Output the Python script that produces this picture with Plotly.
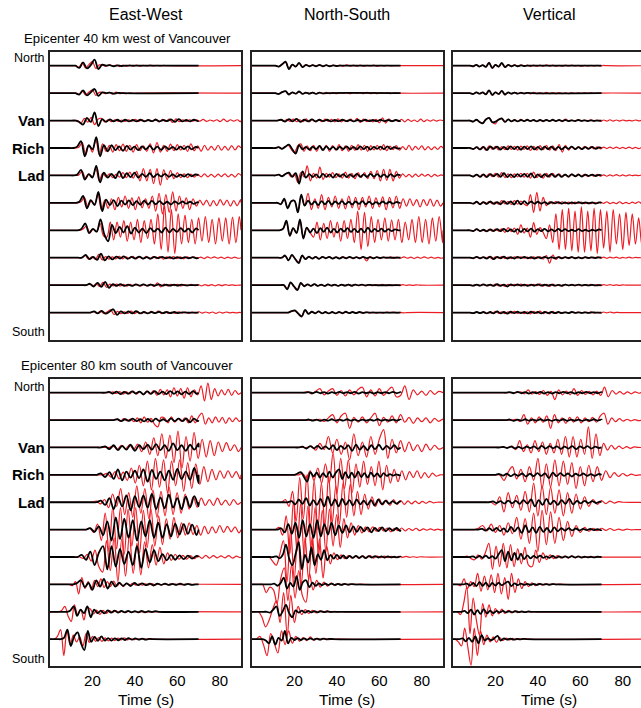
import plotly.graph_objects as go

# ---------------- data: (start time s, step s, amplitudes in 1/100 trace spacing) ----------------
# Top row: epicenter 40 km west of Vancouver
EW_TOP_BLACK = [
    (12, 1.8, [0,-8,12,-10,2,22,-12,4,0,2,-2,1,-1]),
    (12, 1.8, [0,-5,10,-8,3,15,-10,3,0,2,-2,1]),
    (12, 1.8, [0,-5,-15,10,-5,30,-20,5,-5,4,-3,3,-4,3,-3,2,-3,3,-3,2,-2,3,-3,2,-2,4,-5,5,-3,2,-3,3,-2,2,-2,2,-2,2,-2,2,0]),
    (11, 1.8, [0,5,25,-30,10,-5,40,-30,10,-12,10,-8,6,-10,8,-6,5,-8,6,-5,8,-6,5,-7,6,-5,4,-6,5,-4,6,-5,4,-5,4,-3,5,-4,3,-4,4,-3,2]),
    (11, 1.8, [0,3,20,-15,5,-8,35,-25,10,-8,6,-10,15,-10,8,-6,10,-8,6,-5,8,-6,5,-4,6,-5,4,-5,3,-4,5,-3,4,-3,3,-4,3,-2,3,-2,2]),
    (12, 1.8, [0,4,25,-20,10,-8,40,-30,12,-8,10,-12,8,-6,9,-8,6,-7,8,-6,7,-5,6,-5,4,-6,5,-4,5,-3,4,-4,3,-3,4,-2,3,-2]),
    (13, 1.8, [0,5,25,-10,5,-5,40,-15,-40,20,-10,12,-8,15,-12,10,-8,6,-10,8,-5,6,-8,10,-8,5,-6,8,-5,6,-8,7,-5,4,-6,5,-3,3]),
    (15, 1.8, [0,10,-5,3,-8,15,-10,5,-6,4,-3,5,-4,3,-3,4,-3,2,-3,3,-2,3,-2,2,-3,2,-2,2,-2,2,-2,2,-1]),
    (17, 1.8, [0,5,-5,8,-6,12,-10,4,-3,4,-3,2,-3,3,-2,3,-2,2,-2,3,-2,2,-2,2,-2,2,-1]),
    (19, 1.8, [0,4,-3,6,-4,3,12,-8,4,-3,4,-3,5,-3,2,-3,2,-2,3,-2,2,-2,2,-2,1]),
]
EW_TOP_RED = [
    (12, 1.6, [0,-5,10,-8,5,15,-10,3,2,-2,3,-2,2,-3,2,-2,2,-2,2,-2,1,-1,2,-1,1,-1,1]),
    (12, 1.6, [0,-4,8,-6,4,12,-8,3,2,-2,3,-3,4,-2,2,-2,1,-1]),
    (13, 1.6, [0,-10,8,-6,12,-15,5,8,-5,3,-4,3,-3,2,-3,3,-2,4,-3,3,-2,3,-4,5,-5,4,-3,5,-7,6,-4,3,-3,3,-2,3,-2,4,-3,2,-2,3,-4,5,-4,3,-2,3,-4,3,-3,2,-2]),
    (12, 1.6, [0,3,20,-25,10,-15,30,-25,15,-12,10,-15,12,-10,14,-12,10,-15,12,-10,8,-12,15,-18,20,-15,10,-12,14,-10,12,-8,10,-12,15,-10,8,-12,10,-8,6,-8,10,-8,6,-8,9,-7,8,-6,8,-9,7,-6]),
    (12, 1.6, [0,2,15,-12,5,-5,25,-20,8,-5,6,-8,5,-6,10,-8,12,-10,15,-20,25,-20,22,-30,25,-35,20,-15,18,-12,10,-8,6,-8,5,-6,4,-5,6,-5,4,-6,5,-4,6,-5,4,-6,7,-5,4,-6,5,-4]),
    (13, 1.6, [0,4,20,-15,8,-5,30,-25,10,-20,15,-25,20,-15,25,-20,18,-25,22,-18,15,-20,25,-30,35,-40,30,-35,40,-30,25,-20,18,-25,15,-12,10,-8,10,-12,8,-10,12,-8,10,-12,8,-10,12,-9,10,-8,9,-10]),
    (14, 1.6, [0,5,15,-10,5,-5,25,-20,-25,30,-35,30,-25,35,-40,30,-35,40,-45,35,-30,40,-50,60,-70,90,-80,75,-85,60,-50,55,-45,40,-50,45,-40,50,-45,40,-50,45,-40,45,-50,48,-45,50,-45,40,-45,50,-40]),
    (15, 1.6, [0,8,-5,3,-6,12,-8,4,-5,3,-4,5,-4,3,-3,5,-4,3,-4,5,-5,4,-3,4,-5,3,-3,4,-3,3,-4,3,-2,3,-3,2,-3,3,-2,3,-2,2,-3,2,-2,2,-2,2,-1,1,-1]),
    (17, 1.6, [0,4,-4,6,-5,10,-8,4,-3,4,-3,3,-4,3,-2,3,-4,3,-3,4,-5,8,-6,4,-3,3,-2,3,-3,2,-2,3,-2,2,-3,2,-2,2,-3,2,-2,2,-1,1,-1]),
    (19, 1.6, [0,3,-3,5,-3,3,10,-7,4,-4,3,-3,5,-4,3,-4,3,-3,4,-3,5,-4,3,-3,2,-3,3,-2,2,-3,2,-2,3,-2,2,-2,2,-3,2,-2,2,-1,1,-1,1,-1,1]),
]
NS_TOP_BLACK = [
    (11, 1.6, [0,-3,5,15,-12,4,-3,10,-5,3,-2,2,-2,3,-2,2,-2,1,-1]),
    (11, 1.6, [0,-3,4,7,-5,3,-2,6,-3,2,-2,2,-3,2,-1]),
    (12, 1.8, [0,3,-4,5,-3,6,-5,3,-3,4,-3,3,-2,3,-3,2,-2,3,-2,2,-3,2,-2,3,-2,2,-2,3,-2,2,-2,2,-2,2,-2,2,-1]),
    (11, 1.6, [0,3,-3,5,12,-5,-20,10,-5,4,-6,5,-4,8,-8,6,-5,4,-6,5,-4,6,-5,4,-5,6,-4,5,-6,4,-3,5,-4,6,-4,3,-2,3]),
    (11, 1.6, [0,3,-3,5,10,-5,8,-30,15,-8,5,-6,4,-8,6,-5,4,-8,6,-4,5,-6,4,-5,6,-5,4,-5,6,-4,5,-5,4,-6,5,-4,3]),
    (12, 1.6, [0,-5,15,-20,5,8,-35,30,-10,8,-6,5,-8,6,-5,7,-6,5,-4,6,-5,4,-6,5,-4,6,-5,4,-5,3,-4,5,-3,4,-3,3]),
    (13, 1.6, [0,5,35,-20,8,-10,40,-30,10,-8,6,-10,8,-6,10,-8,5,-8,6,-5,8,-6,5,-7,6,-8,10,-6,5,-4,6,-5,4,-3,3]),
    (14, 1.6, [0,8,-10,10,-5,-20,8,-5,4,-3,3,-4,3,-2,3,-3,2,-3,2,-2,3,-2,2,-2,3,-2,2,-2,2,-1,1]),
    (15, 1.6, [0,-15,10,-5,-18,8,-4,3,-3,4,-3,2,-3,3,-2,2,-3,2,-2,2,-2,2,-1,2,-1,1]),
    (17, 1.6, [0,5,8,-4,-15,10,-5,3,-3,4,-3,2,-3,2,-3,2,-2,3,-2,2,-2,2,-1,1]),
]
NS_TOP_RED = [
    (11, 1.6, [0,-3,5,12,-10,4,-3,8,-4,3,-2,3,-2,2,-3,2,-2,2,-2,2,-2,3,-2,2,-2,2,-2,1,-1,2,-2,1,-1,1,-1]),
    (11, 1.6, [0,-3,4,6,-4,3,-2,5,-3,2,-2,3,-2,2,-2,3,-2,2,-2,2,-1,2,-2,2,-1,2,-2,3,-2,2,-2,1,-1,2,-2,1]),
    (12, 1.5, [0,3,-3,4,-3,5,-4,3,-4,6,-5,4,-5,3,-4,5,-3,4,-5,6,-5,3,-4,5,-4,8,-7,5,-4,3,-5,4,-8,10,-9,6,-4,3,-3,4,-5,4,-3,2,-4,5,-4,3,-2,3,-2,2]),
    (11, 1.5, [0,3,-3,5,10,-5,-18,8,15,-12,8,-10,10,-12,8,-6,10,-12,9,-8,12,-10,8,-12,10,-9,12,-8,10,-12,9,-7,10,-8,12,-10,7,-6,9,-8,5,-6,10,-8,6,-5,8,-7,5,-6,4,-5,6,-4]),
    (11, 1.5, [0,3,-3,5,8,-5,6,-25,10,-5,35,-20,8,-10,30,-15,8,-6,10,-8,6,-10,12,-10,8,-12,10,-8,10,-12,15,-12,18,-20,22,-18,22,-20,15,-10,6,-5,4,-6,5,-4,5,-3,4,-5,4,-3,2]),
    (12, 1.6, [0,-5,12,-18,5,8,-30,25,-10,35,-25,15,-20,30,-25,20,-15,25,-20,15,-22,25,-18,20,-25,20,-15,25,-20,18,-15,22,-25,20,-18,25,-20,15,-12,15,-10,12,-15,12,-10,14,-12,10,-12,14,-10,12,-10]),
    (13, 1.6, [0,5,30,-20,8,-10,35,-28,10,-8,-25,30,-35,25,-30,35,-25,30,-40,35,-30,40,-45,70,-70,65,-60,50,-45,40,-35,45,-40,38,-35,40,-45,30,-35,40,-45,50,-45,40,-50,45,-40,50,-45,40,-35,38]),
    (14, 1.6, [0,6,-8,8,-5,-15,6,-4,3,-3,3,-4,3,-2,3,-3,2,-3,4,-3,2,-3,2,-3,3,-12,4,-3,2,-3,2,-2,3,-2,2,-2,3,-2,2,-3,2,-2,3,-2,2,-2,1,-2,2]),
    (15, 1.6, [0,-12,8,-4,-15,6,-3,3,-3,4,-3,2,-3,3,-2,2,-3,2,-2,3,-4,3,-2,2,-3,2,-2,2,-2,3,-2,2,-2,1,-2,2,-1,1,-1,1]),
    (17, 1.6, [0,4,6,-3,-12,8,-4,3,-3,4,-3,2,-3,2,-3,2,-4,3,-2,3,-2,2,-3,2,-2,2,-2,1,-2,2,-1,2,-1,1,-1]),
]
VT_TOP_BLACK = [
    (8, 1.5, [0,-2,3,-3,2,-4,10,-8,3,-3,10,-5,3,-2,2,-2,1,-1]),
    (8, 1.5, [0,-3,3,-2,3,-4,10,-6,3,-3,8,-5,3,-2,2,-2,1,-1,1]),
    (8, 1.5, [0,-4,3,-5,-10,4,10,-6,-4,3,8,-5,4,-3,2,-3,2,-2,3,-2,2,-3,2,-2,2,-2,3,-2,2,-2,2,-2,1,-2,2,-1,1,-2,1,-1]),
    (8, 1.6, [0,-4,3,-5,4,-8,6,-3,5,-6,4,-5,6,-4,5,-6,5,-4,6,-5,4,-6,5,-4,5,-6,4,-5,4,-3,5,-4,3,-4,3,-3,4,-3,2,-3,2]),
    (8, 1.6, [0,-4,3,-5,4,-6,5,-3,6,-5,8,-6,4,-6,5,-4,6,-5,7,-8,4,-6,5,-4,6,-5,4,-5,3,-4,4,-3,3,-4,3,-2,3,-2,2,-2,2]),
    (8, 1.6, [0,-3,4,-5,3,-4,5,-4,3,-5,6,-4,5,-6,8,-5,6,-4,5,-3,4,-3,3,-4,3,-2,3,-3,2,-3,2,-2,3,-2,2,-2,2,-3,2,-2,1]),
    (8, 1.6, [0,-3,4,-3,2,-4,3,-3,4,-3,5,-4,3,-5,4,-6,5,-4,6,-5,4,-3,5,-4,3,-4,5,-3,4,-3,2,-3,4,-3,2,-3,2,-2,3,-2,1]),
    (8, 1.6, [0,-2,3,-2,2,-3,4,-5,3,-2,4,-3,2,-3,3,-2,3,-2,2,-3,2,-2,3,-2,2,-2,2,-2,2,-1,2,-2,1,-2,2,-1,1,-1,1,-1]),
    (8, 1.6, [0,-2,2,-2,3,-2,2,-3,4,-3,2,-5,3,-2,3,-2,2,-3,2,-2,3,-2,2,-2,2,-2,1,-2,2,-1,1,-1,2,-1,1,-1,1,-1]),
    (8, 1.6, [0,-2,2,-2,2,-3,2,-3,4,-3,2,-4,3,-2,3,-2,2,-3,3,-2,2,-3,2,-2,2,-2,2,-2,1,-2,2,-1,1,-1,1,-1,1]),
]
VT_TOP_RED = [
    (8, 1.5, [0,-3,3,-3,2,-5,12,-10,4,-4,8,-5,3,-3,3,-2,3,-2,2,-3,2,-2,2,-2,3,-2,2,-2,1,-2,2,-1,2,-1,1,-2,1,-1,1,-1,1,-1,1]),
    (8, 1.5, [0,-3,3,-2,3,-5,10,-8,4,-4,8,-6,3,-3,3,-2,3,-2,2,-3,3,-2,2,-2,3,-2,2,-2,2,-2,1,-2,2,-1,1,-1,1,-1,1,-1]),
    (8, 1.5, [0,-4,3,-5,-8,4,10,-6,-12,5,6,-5,4,-3,3,-3,4,-3,3,-2,3,-2,3,-4,3,-2,3,-2,2,-4,5,-3,2,-2,3,-2,2,-2,3,-2,2,-3,2,-2,3,-2,2,-2,2,-1,1,-1,2,-1,1]),
    (8, 1.5, [0,-4,3,-6,5,-8,8,-5,6,-7,5,-6,8,-5,6,-8,7,-5,8,-9,6,-8,9,-6,10,-8,8,-10,12,-15,10,-8,6,-5,4,-5,6,-4,5,-3,4,-3,3,-2,3,-2,3,-2,2,-2,3,-2,2,-2,2,-1,2,-1,1]),
    (8, 1.5, [0,-4,3,-5,4,-6,6,-4,8,-6,10,-8,6,-8,6,-5,8,-6,8,-10,12,-8,6,-10,8,-6,8,-5,6,-5,4,-6,5,-4,5,-3,4,-4,3,-3,4,-3,2,-3,2,-2,3,-2,2,-2,2,-1,1,-1,2,-1,1]),
    (8, 1.5, [0,-3,4,-5,3,-4,5,-4,3,-5,8,-4,5,-6,8,-5,6,-4,-10,30,-35,38,-30,20,-10,5,-4,5,-3,4,-3,3,-4,3,-2,3,-3,2,-3,2,-2,3,-2,4,-3,2,-3,4,-3,2,-3,3,-2,4,-3,2,-2]),
    (8, 1.5, [0,-3,4,-3,2,-4,3,-3,4,-3,5,-8,10,-5,8,-15,20,-10,8,-25,28,-15,10,-8,-30,20,-45,60,-70,75,-70,80,-75,70,-80,85,-80,70,-75,80,-85,75,-65,70,-80,75,-50,60,-70,65,-55,60,-50,45,-55,50,-40,45]),
    (8, 1.5, [0,-2,3,-3,2,-3,4,-5,3,-2,4,-3,2,-3,3,-2,3,-2,2,-3,3,-2,4,-5,8,-20,10,-6,4,-3,2,-3,3,-2,2,-3,2,-2,2,-2,3,-2,2,-2,2,-1,2,-2,1,-1,2,-1,1]),
    (8, 1.5, [0,-2,2,-2,3,-2,2,-3,4,-3,2,-5,3,-2,3,-2,4,-3,2,-2,3,-2,5,-4,3,-5,4,-3,2,-4,3,-2,3,-2,2,-3,2,-2,3,-2,2,-2,2,-1,2,-1,1,-1,1]),
    (8, 1.5, [0,-2,2,-2,2,-3,2,-3,4,-3,3,-4,3,-2,4,-3,2,-4,3,-5,4,-3,5,-4,3,-5,4,-3,2,-3,2,-2,3,-2,2,-2,2,-2,3,-2,1,-2,2,-1,2,-1,1]),
]

# Bottom row: epicenter 80 km south of Vancouver
EW_BOT_BLACK = [
    (26, 1.8, [0,3,-3,4,-5,3,-4,5,-3,4,-6,5,-4,6,-5,4,-5,6,-4,5,-6,4,-5,6,-4,3,-5,4,-3,4,-3,3]),
    (30, 1.8, [0,3,-4,3,-3,5,-4,3,-5,4,-6,5,-4,3,-5,6,-4,5,-4,6,-8,5,-4,6,-5,4,-3,3]),
    (24, 2.0, [0,4,-6,8,-10,6,-8,10,-12,8,-6,10,-8,12,-10,8,-12,15,-10,8,-12,10,-8,15,-20,18,-15,10,-8,6,-4,3]),
    (22, 2.0, [0,5,-8,10,-15,20,-20,12,-10,15,-12,20,-25,18,-15,12,-20,15,-18,22,-15,12,-18,25,-30,20,-25,28,-20,15,-12,8,-5,3]),
    (22, 2.0, [0,6,-10,15,-25,20,-15,25,-30,22,-18,25,-20,30,-25,18,-22,28,-20,15,-25,20,-18,22,-15,12,-18,15,-10,8,-6,5,-3]),
    (17, 2.0, [0,5,-8,12,-20,30,-40,45,-35,40,-30,35,-40,30,-25,35,-30,25,-30,20,-25,22,-18,20,-15,18,-20,15,-12,15,-10,12,-8,10,-8,6,-5,4]),
    (13, 2.0, [0,8,-10,20,-30,15,40,-45,40,-35,30,-25,20,-30,40,-40,30,-20,25,-15,10,-12,8,-10,6,-8,5,-6,4,-5,6,-4,3,-4,3,-2]),
    (11, 1.8, [0,5,15,-10,5,-20,15,-8,20,-15,10,-8,6,-5,4,-6,5,-3,4,-3,3,-4,3,-2,3,-2,2,-2,3,-2,2,-2]),
    (8, 1.6, [0,5,20,-15,8,-5,20,-20,8,-5,4,-6,5,-3,4,-3,3,-2,3,-2,2,-2,3,-2,2,-1,2]),
    (5, 1.6, [0,5,35,-25,10,25,-15,-40,30,-10,8,-6,10,-5,4,-5,3,-4,3,-3,4,-2,3,-2,2,-2,1]),
]
EW_BOT_RED = [
    (28, 1.6, [0,3,-3,4,-5,3,-4,6,-5,4,-8,6,-5,8,-10,12,-8,10,-15,18,-12,15,-20,18,-15,10,-8,25,-30,35,-25,15,-12,10,-8,12,-10,8,-6,10,-8,6,-5,8,-6,4,-3]),
    (30, 1.6, [0,3,-4,5,-3,4,-6,8,-10,12,-8,6,-15,-25,10,8,-10,12,-8,6,-5,8,-10,15,-10,12,25,-15,8,-10,12,-8,10,-12,8,-6,8,-5,6,-5,4]),
    (28, 1.9, [0,4,-6,8,-5,10,-8,12,-15,20,-25,35,-30,50,-40,45,-55,60,-75,40,-50,55,-40,30,-35,25,-30,20,-15,18,-12,10,-15,12,-10,8,-12,10,-8,6]),
    (25, 1.9, [0,5,-8,12,-15,10,-20,25,-30,35,-40,50,-55,60,-45,55,-65,50,-40,55,-60,45,-50,40,-35,30,-25,20,-18,15,-12,15,-10,12,-15,10,-8,12,-10,8,-6]),
    (20, 1.9, [0,4,-6,10,-20,30,-15,50,-45,35,-55,60,-40,50,-60,45,-55,40,-50,55,-45,35,-40,30,-25,20,-18,15,-12,10,-12,15,-10,8,-12,10,-8,12,-10,8,-6,5,-4]),
    (17, 1.8, [0,5,-10,20,-40,60,-80,85,-70,80,-90,75,-60,80,-85,70,-65,75,-60,50,-55,40,-35,45,-30,25,-20,25,-18,15,-20,12,-15,10,-12,15,-10,12,-8,10,-12,8,-10,8,-6,5]),
    (14, 1.8, [0,-5,10,-15,25,-35,-55,60,-50,70,-90,65,-70,80,-60,50,-65,55,-40,45,-30,35,-25,15,-12,10,-8,6,-8,5,-6,4,-5,6,-4,5,-3,4,-3,5,-4,3,-2]),
    (9, 1.5, [0,-5,10,-35,25,-15,10,-20,15,-8,20,-12,10,-8,12,-6,5,-8,4,-3,4,-3,2,-3,2,-2,3,-2,2,-2,1,-2,2,-1,1,-1]),
    (4, 1.5, [0,5,20,-15,-35,25,-10,8,-30,15,10,-8,6,-10,5,-6,4,-3,4,-3,2,-3,2,-2,1,-1]),
    (2, 1.5, [0,10,35,-60,30,-20,15,-10,8,-25,20,-12,10,-8,6,-8,5,-6,4,-5,4,-3,5,-3,2,-2,2,-1,1]),
]
NS_BOT_BLACK = [
    (25, 1.8, [0,2,-2,3,-2,2,-3,2,-2,3,-2,2,-2,3,-3,2,-2,2,-3,2,-2,2,-2,3,-2,2,-2,2,-2,2,-1,1]),
    (25, 1.8, [0,2,-2,2,-3,2,-2,3,-2,2,-2,3,-2,2,-3,2,-2,2,-2,3,-2,2,-2,2,-2,2,-2,2,-1,1,-1,1]),
    (22, 1.8, [0,3,-4,5,-3,6,-5,4,-6,8,-10,6,-5,8,-12,10,-8,6,-10,8,-6,10,-8,6,-5,8,-6,5,-4,3,-3,2,-2]),
    (20, 1.5, [0,5,10,-8,-25,10,-6,8,-10,6,-8,12,-10,8,20,-15,10,-12,8,-10,12,-8,6,-10,8,-6,5,-8,6,-4,3,-3,2,-2]),
    (17, 1.7, [0,4,-8,10,-6,15,-12,8,-10,12,-15,20,-12,10,-15,12,-10,8,-12,10,-8,6,-10,8,-12,10,-8,6,-5,4,-5,3,-3,2]),
    (12, 1.7, [0,5,-10,20,-15,25,-30,35,-25,20,-30,35,-25,20,-18,25,-20,15,-12,15,-10,12,-8,10,-6,8,-10,6,-5,8,-6,5,-4,6,-5,4,-3,2]),
    (10, 1.5, [0,2,-5,8,45,-5,-30,10,55,-45,8,-20,35,-30,10,-10,25,-12,8,-6,8,-5,6,-5,4,-3,4,-3,3,-4,3,-2,3,-2,2,-2,2,-1,1,-1,1,-1]),
    (9, 1.5, [0,3,-5,5,25,-15,5,-8,30,-20,8,15,-10,6,-5,4,-3,3,-2,3,-2,2,-2,2,-1,1]),
    (7, 1.5, [0,-3,8,20,-15,2,25,-5,-20,5,-3,4,-3,3,-2,2,-2,2,-1,1]),
    (5, 1.5, [0,-5,-15,10,-20,5,-5,30,-15,5,-3,4,-3,3,-2,3,-2,2,-2,2,-1,1]),
]
NS_BOT_RED = [
    (24, 2.0, [0,3,-4,5,15,-8,6,15,-10,8,-12,10,-8,12,20,-15,10,-12,15,-10,8,20,-15,-10,25,-25,10,-8,6,-10,8,-6,5]),
    (30, 2.0, [0,3,-5,8,20,-10,15,25,-30,10,-8,12,-10,8,25,-20,10,-8,15,-10,20,-8,10,-12,8,-6,8,-10,6,-5,4]),
    (26, 2.0, [0,5,-10,15,-8,40,-20,30,-25,20,-45,50,-30,20,-35,40,-25,30,65,-40,30,-20,25,-15,20,-12,10,-15,12,-10,8,-6]),
    (22, 1.8, [0,5,-10,15,-20,25,-30,40,-30,80,-70,60,-50,55,-65,40,-45,50,-35,30,-40,50,-55,35,-30,20,-25,15,-18,12,-10,15,-12,8,-10,6,-5]),
    (14, 1.7, [0,10,-15,40,-70,90,-60,100,-90,80,-100,70,-85,95,-75,60,-80,70,-55,65,-50,40,-45,30,-25,20,-15,12,-10,8,-12,10,-8,6,-8,5,-6,4,-5,3,-4,3,-2]),
    (11, 1.7, [0,8,-20,50,-90,100,-80,95,-100,85,-90,80,-95,70,-80,75,-60,55,-65,40,-30,25,-20,15,-12,10,-8,10,-6,8,-5,6,-8,5,-4,6,-5,4,-3,5,-4,3,-2,3,-2,2,-2]),
    (8, 1.7, [0,-15,-30,10,60,-90,100,-80,90,-95,70,-85,75,-60,65,-77,40,-25,15,-10,8,-6,5,-4,3,-5,4,-3,5,-4,3,-2,3,-2,2,-2,2,-1,2,-1,1,-1,1]),
    (5, 1.7, [0,-30,-10,-20,-70,20,60,-60,70,-50,50,-40,-65,40,-20,15,-10,8,-6,5,-4,3,-2,2,-2,1,-1,1]),
    (3, 1.7, [0,-20,-55,-30,10,40,-40,70,-85,60,-40,20,-10,8,-6,5,-4,3,-2,3,-2,2,-1,1]),
    (2, 1.7, [0,10,-20,-60,20,-15,-50,30,-20,30,-15,10,-8,6,-5,8,-4,3,-2,3,-2,2,-1,1]),
]
VT_BOT_BLACK = [
    (25, 1.8, [0,2,-2,3,-2,2,-3,2,-2,3,-3,2,-3,2,-2,3,-2,2,-3,2,-2,3,-2,2,-2,2,-1,2,-1,1,-1]),
    (25, 1.8, [0,2,-3,2,-2,3,-2,2,-2,3,-2,2,-3,2,-2,3,-3,2,-2,2,-3,2,-2,3,-2,2,-2,1,-1,1,-1]),
    (22, 1.8, [0,2,-2,3,-3,2,-4,3,-2,4,-5,6,-4,5,-3,4,-5,3,-4,5,-6,4,-3,5,-4,3,-2,3,-2,2,-2,2,-1]),
    (20, 1.8, [0,3,-3,4,-5,3,-4,5,-6,4,-5,6,-4,5,-12,8,-5,6,-4,5,-6,4,-3,5,-4,3,-4,3,-2,3,-2,2,-2,1]),
    (17, 1.8, [0,3,-3,4,-5,6,-4,5,-6,8,-5,10,-15,8,-10,12,-8,6,-10,8,-6,12,-8,5,-4,5,-3,4,-3,2,-3,2,-2,2,-1]),
    (12, 1.7, [0,3,-4,5,-4,6,-5,4,-8,10,-6,8,-12,15,-10,8,-12,10,-8,6,-10,8,-6,5,-4,5,-3,4,-3,3,-2,3,-2,2,-2,2,-1,1,-1]),
    (8, 1.5, [0,2,-3,4,-3,5,-4,3,-6,10,25,-15,20,-12,15,-10,12,-8,6,-5,4,-3,5,-3,2,-3,4,-3,2,-2,2,-2,3,-2,2,-2,1,-1,1,-1,1]),
    (5, 1.5, [0,3,-4,5,-6,8,-5,6,-8,5,-4,6,-3,4,10,-6,4,-3,3,-2,2,-2,2,-2,2,-1,1,-1,1]),
    (4, 1.5, [0,3,-5,8,-10,6,-8,10,-6,4,-5,3,-2,3,-2,2,-2,2,-1,1,-1,1]),
    (3, 1.5, [0,3,-8,5,-10,10,-15,15,-5,3,-4,3,12,-5,3,-2,2,-2,1,-1,1]),
]
VT_BOT_RED = [
    (30, 1.8, [0,3,-4,10,-5,4,-6,8,-10,5,-25,10,-8,6,-8,15,-10,8,-6,5,-8,6,-10,20,-15,8,-5,4,-5,3,-4,3,-2,2]),
    (28, 1.8, [0,3,-5,20,-15,8,-10,12,-8,15,-30,20,-10,8,-12,10,-8,12,-10,8,-6,10,-8,15,25,-15,8,-6,5,-4,3,-3,2,-2]),
    (26, 1.8, [0,5,-8,25,-15,10,-20,25,-15,20,-25,15,-20,30,-25,40,-35,40,-35,30,-25,75,-40,50,-30,15,-10,8,-6,5,-4,3,-3,2]),
    (22, 2.0, [0,-20,10,30,-15,20,-25,30,-20,60,-50,40,-45,55,-40,50,-35,45,-50,30,-40,35,-25,30,-20,15,-10,8,-6,5,-4,3,-2]),
    (18, 2.0, [0,-10,20,-35,35,-20,25,-30,40,-35,70,-50,60,-45,55,-40,45,-50,35,-40,30,-25,20,-15,10,-8,6,-5,4,-3,2]),
    (10, 2.0, [0,5,15,-5,20,-10,15,-20,25,-15,45,-35,40,-50,60,-80,70,-55,65,-50,45,-40,30,-25,15,-10,8,-6,5,-4,5,-3,4,-3,2,-2,2,-1]),
    (5, 1.7, [0,3,-5,-10,8,-8,15,50,-45,40,-35,50,-40,45,-35,30,-25,35,-30,-35,25,-20,15,-10,8,-6,5,-4,3,-4,3,-2,2,-2,1]),
    (2, 1.6, [0,-5,20,-15,10,-8,40,-25,30,-20,35,-30,40,-35,25,-55,40,-30,20,-15,10,-8,6,-5,4,-3,2,-2,2,-1,1]),
    (2, 1.5, [0,-10,30,90,-80,50,-30,-85,30,-20,25,-15,12,-8,10,-6,5,-4,3,-3,2,-2,1,-1,1]),
    (1, 1.5, [0,-10,-25,40,-30,-95,40,-60,30,-20,15,-10,8,-12,6,-5,4,-3,3,-2,2,-1,1]),
]

COLUMN_TITLES = ["East-West", "North-South", "Vertical"]
ROW_TITLES = ["Epicenter 40 km west of Vancouver", "Epicenter 80 km south of Vancouver"]
STATION_LABELS = ["Van", "Rich", "Lad"]
STATION_ROWS = [2, 3, 4]
TICK_VALUES = [20, 40, 60, 80]
BLACK_END = 70
RED_END = 90

# ---------------- figure ----------------
W, H = 641, 708
FONT = "Liberation Sans, Arial, Helvetica, sans-serif"
RED = "rgb(236,28,36)"


def build(specs, tend):
    xs, ys = [], []
    for i, (t0, dt, amps) in enumerate(specs):
        base = -i
        x = [0.0]
        y = [base]
        if t0 - dt > 0:
            x.append(t0 - dt)
            y.append(base)
        last = t0
        for k, a in enumerate(amps):
            t = t0 + k * dt
            if t > tend:
                break
            x.append(t)
            y.append(base + a / 100.0)
            last = t
        if last + dt < tend:
            x.append(last + dt)
            y.append(base)
        x.append(tend)
        y.append(base)
        xs += x + [None]
        ys += y + [None]
    return xs, ys


def px_x(p):
    return p / W


def px_y(p):
    return 1 - p / H


panels = [
    (EW_TOP_RED, EW_TOP_BLACK), (NS_TOP_RED, NS_TOP_BLACK), (VT_TOP_RED, VT_TOP_BLACK),
    (EW_BOT_RED, EW_BOT_BLACK), (NS_BOT_RED, NS_BOT_BLACK), (VT_BOT_RED, VT_BOT_BLACK),
]
xdomains = [(50, 241), (252, 443), (453, 641)]
xranges = [[0, 90], [0, 90], [0, 88.6]]
ydomains = [(52, 340), (379, 666)]
yranges = [[-10.0, 0.5], [-9.98, 0.5]]

fig = go.Figure()
layout = dict(
    width=W, height=H, margin=dict(l=0, r=0, t=0, b=0),
    paper_bgcolor="white", plot_bgcolor="white", showlegend=False,
    hovermode=False, font=dict(family=FONT, color="black"),
)
for p, (red, black) in enumerate(panels):
    r, c = divmod(p, 3)
    n = p + 1
    xa = "x" if n == 1 else f"x{n}"
    ya = "y" if n == 1 else f"y{n}"
    rx, ry = build(red, RED_END)
    bx, by = build(black, BLACK_END)
    fig.add_trace(go.Scatter(x=rx, y=ry, mode="lines", xaxis=xa, yaxis=ya,
                             line=dict(color=RED, width=1.2, shape="spline", smoothing=1.0),
                             connectgaps=False))
    fig.add_trace(go.Scatter(x=bx, y=by, mode="lines", xaxis=xa, yaxis=ya,
                             line=dict(color="black", width=1.8, shape="spline", smoothing=1.0),
                             connectgaps=False))
    xd = xdomains[c]
    yd = ydomains[r]
    layout[f"xaxis{'' if n == 1 else n}"] = dict(
        domain=[px_x(xd[0]), px_x(xd[1])], range=xranges[c], anchor=ya,
        showgrid=False, zeroline=False, showline=True, linecolor="#222", linewidth=2,
        mirror=True, ticks="", tickvals=TICK_VALUES,
        showticklabels=(r == 1), tickfont=dict(size=15, family=FONT, color="black"),
        fixedrange=True,
    )
    layout[f"yaxis{'' if n == 1 else n}"] = dict(
        domain=[px_y(yd[1]), px_y(yd[0])], range=yranges[r], anchor=xa,
        showgrid=False, zeroline=False, showline=True, linecolor="#222", linewidth=2,
        mirror=(c < 2), ticks="", showticklabels=False, fixedrange=True,
    )

ann = []
centers = [(a + b) / 2 for a, b in xdomains[:2]] + [548.5]
for c, t in enumerate(COLUMN_TITLES):
    ann.append(dict(text=t, x=px_x(centers[c]), y=px_y(15), xref="paper", yref="paper",
                    showarrow=False, xanchor="center", yanchor="middle", font=dict(size=16)))
    ann.append(dict(text="Time (s)", x=px_x(centers[c]), y=px_y(699), xref="paper", yref="paper",
                    showarrow=False, xanchor="center", yanchor="middle", font=dict(size=15.5)))
row_title_pos = [(22, 38), (19, 366)]
north_y = [58, 387]
south_y = [332, 659]
for r in range(2):
    ann.append(dict(text=ROW_TITLES[r], x=px_x(row_title_pos[r][0]), y=px_y(row_title_pos[r][1]),
                    xref="paper", yref="paper", showarrow=False, xanchor="left", yanchor="middle",
                    font=dict(size=13.2)))
    ann.append(dict(text="North", x=px_x(47), y=px_y(north_y[r]), xref="paper", yref="paper",
                    showarrow=False, xanchor="right", yanchor="middle", font=dict(size=12.5)))
    ann.append(dict(text="South", x=px_x(47), y=px_y(south_y[r]), xref="paper", yref="paper",
                    showarrow=False, xanchor="right", yanchor="middle", font=dict(size=12.5)))
    ya = "y" if r == 0 else "y4"
    for lab, row in zip(STATION_LABELS, STATION_ROWS):
        ann.append(dict(text=f"<b>{lab}</b>", x=px_x(47), y=-row, xref="paper", yref=ya,
                        showarrow=False, xanchor="right", yanchor="middle", font=dict(size=15)))
layout["annotations"] = ann
fig.update_layout(**layout)
fig.write_html("out.html", config={"displayModeBar": False})
